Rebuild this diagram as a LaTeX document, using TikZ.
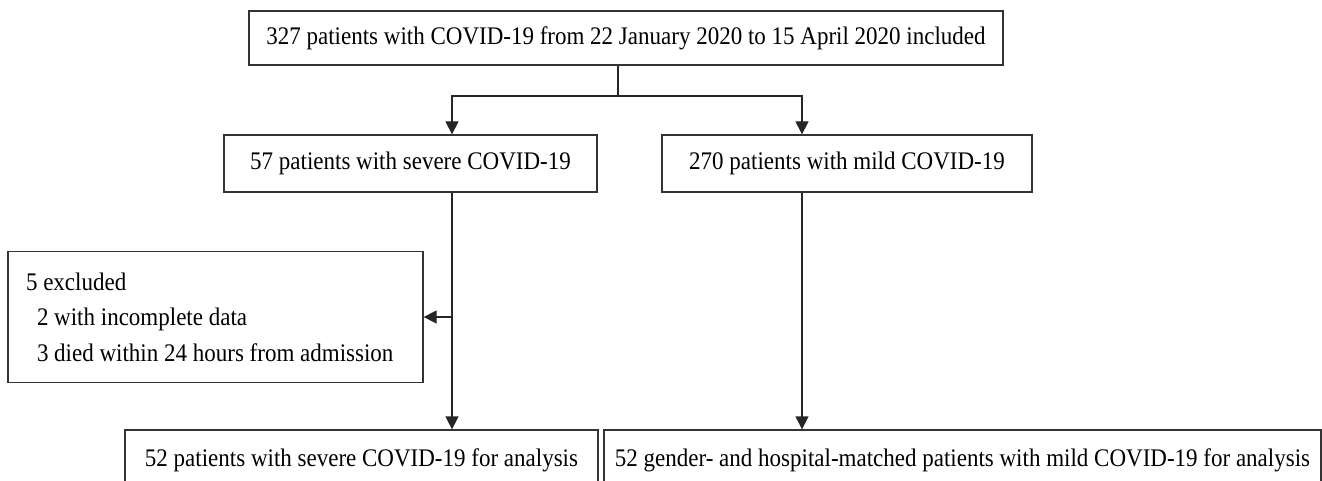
\documentclass[tikz,border=0pt]{standalone}
\usepackage{fontspec}
\usepackage{graphicx}
\setmainfont{Liberation Serif}
\usetikzlibrary{arrows.meta}
\newcommand{\tallt}[1]{\scalebox{1}[1.1]{#1}}
\tikzset{
  box/.style={draw=black!80, line width=1.3pt, rectangle, inner sep=0pt, font=\fontsize{23}{35.5}\selectfont, text=black},
  arr/.style={draw=black!85, line width=1.3pt, -{Triangle[length=13pt,width=13pt]}},
  ln/.style={draw=black!85, line width=1.3pt}
}
\begin{document}
\begin{tikzpicture}[x=1pt,y=-1pt]
\clip (0,0) rectangle (1322,481);
\fill[white] (0,0) rectangle (1322,481);
\node[box, minimum width=754pt, minimum height=54pt] (top) at (626,38) {\tallt{327 patients with COVID-19 from 22 January 2020 to 15 April 2020 included}};
\node[box, minimum width=373pt, minimum height=57pt] (severe) at (410.5,163.5) {\tallt{57 patients with severe COVID-19}};
\node[box, minimum width=370pt, minimum height=57pt] (mild) at (847,163.5) {\tallt{270 patients with mild COVID-19}};
\node[box, text width=379pt, inner xsep=18pt, minimum height=131pt, align=flush left] (excl) at (215.5,317) {\tallt{5 excluded}\\\hspace*{11pt}\tallt{2 with incomplete data}\\\hspace*{11pt}\tallt{3 died within 24 hours from admission}};
\node[box, minimum width=473pt, minimum height=60pt] (sev2) at (361.5,460) {\tallt{52 patients with severe COVID-19 for analysis}};
\node[box, minimum width=717pt, minimum height=60pt] (mild2) at (962.5,460) {\tallt{52 gender- and hospital-matched patients with mild COVID-19 for analysis}};
\coordinate (j) at (618,96);
\coordinate (cs) at (452,0);
\coordinate (cm) at (802,0);
\draw[ln] (top.south -| j) -- (j);
\draw[arr] (j) -| (cs |- severe.north);
\draw[arr] (j) -| (cm |- mild.north);
\draw[arr] (cs |- severe.south) -- (cs |- sev2.north);
\draw[arr] (cs |- excl.east) -- (excl.east);
\draw[arr] (cm |- mild.south) -- (cm |- mild2.north);
\end{tikzpicture}
\end{document}
